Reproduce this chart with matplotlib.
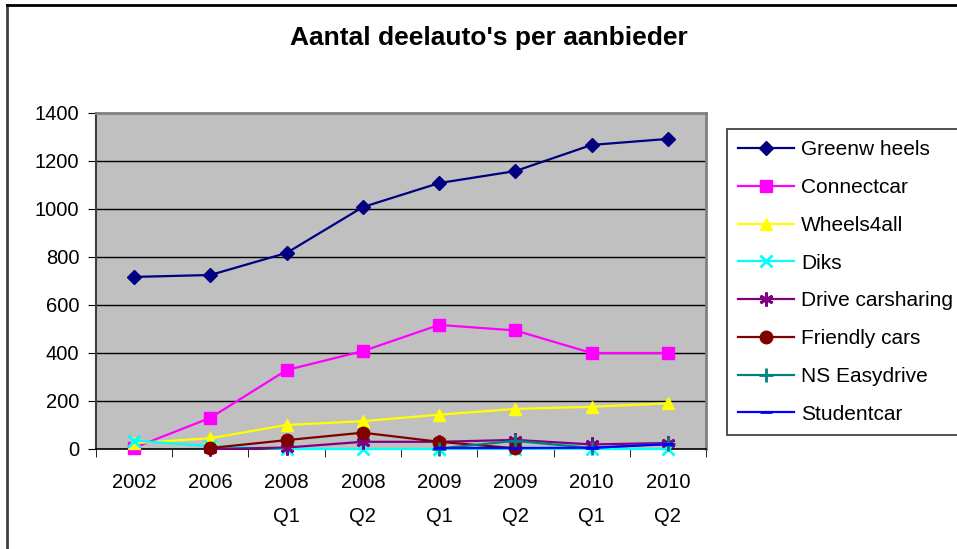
import matplotlib
matplotlib.use("Agg")
from matplotlib import pyplot as plt, lines

plt.rcParams['font.family'] = ['Liberation Sans', 'DejaVu Sans']

# Data
periods = ['2002', '2006', '2008\nQ1', '2008\nQ2', '2009\nQ1', '2009\nQ2', '2010\nQ1', '2010\nQ2']
greenwheels = [717, 725, 817, 1008, 1108, 1158, 1267, 1292]
connectcar = [5, 130, 329, 408, 517, 494, 400, 400]
wheels4all = [24, 45, 100, 116, 143, 167, 176, 190]
diks = [35, 12, 0, 0, 0, 0, 0, 0]
drive = [None, 0, 6, 30, 30, 38, 19, 25]
friendly = [None, 4, 37, 68, 30, 3, None, None]
ns_easydrive = [None, None, None, None, 2, 34, 4, 22]
studentcar = [None, None, None, None, 4, 4, 5, 20]

names = ['Greenw heels', 'Connectcar', 'Wheels4all', 'Diks', 'Drive carsharing',
         'Friendly cars', 'NS Easydrive', 'Studentcar']
series = [greenwheels, connectcar, wheels4all, diks, drive, friendly, ns_easydrive, studentcar]
colors = ['#000080', '#FF00FF', '#FFFF00', '#00FFFF', '#800080', '#800000', '#008080', '#0000FF']
markers = ['D', 's', '^', 'x', (6, 2, 0), 'o', '+', '_']
msizes = [7, 8, 9, 9, 10, 9, 10, 8]

fig = plt.figure(figsize=(9.57, 5.49), dpi=100)
ax = fig.add_axes([96/957, 1-449/549, (706-96)/957, (449-113)/549])
ax.set_facecolor('#C0C0C0')

# gridlines
for y in range(200, 1400, 200):
    ax.axhline(y, color='black', lw=1, zorder=1)

x = list(range(len(periods)))
for name, vals, c, m, ms in zip(names, series, colors, markers, msizes):
    xs = [i for i, v in zip(x, vals) if v is not None]
    ys = [v for v in vals if v is not None]
    mew = 2 if m in ('x', '+', '_') or isinstance(m, tuple) else 1
    ax.plot(xs, ys, color=c, lw=1.6, marker=m, markersize=ms, markeredgewidth=mew,
            markeredgecolor=c, markerfacecolor=c, label=name, zorder=3, clip_on=False)

ax.set_xlim(-0.5, 7.5)
ax.set_ylim(0, 1400)
ax.set_yticks(range(0, 1401, 200))
ax.set_xticks(x)
ax.set_xticklabels(periods, linespacing=2.05, va='top')
ax.set_xticks([i - 0.5 for i in range(len(periods) + 1)], minor=True)
ax.tick_params(axis='x', which='major', length=0, pad=17, labelsize=14.5)
ax.tick_params(axis='x', which='minor', length=6, direction='out', color='black')
ax.tick_params(axis='y', length=6, direction='out', pad=6, labelsize=14.5)

for s in ['top', 'right']:
    ax.spines[s].set_color('#808080')
    ax.spines[s].set_linewidth(2)
ax.spines['left'].set_color('#404040')
ax.spines['left'].set_linewidth(1.5)
ax.spines['bottom'].set_color('black')
ax.spines['bottom'].set_linewidth(1.2)

fig.text(489/957, 1-38/549, "Aantal deelauto's per aanbieder", ha='center', va='center',
         fontsize=19, fontweight='bold')

# Legend
handles, labels = ax.get_legend_handles_labels()
leg = fig.legend(handles, labels, loc='upper left', bbox_to_anchor=(727/957, 1-129/549),
                 fontsize=15, frameon=True, fancybox=False, edgecolor='black',
                 borderpad=0.55, labelspacing=0.9, handlelength=2.65, handletextpad=0.35,
                 borderaxespad=0)
leg.get_frame().set_linewidth(1.2)

# outer chart border
fig.add_artist(lines.Line2D([7/957, 7/957], [0, 1-5/549], color='#404040', lw=2))
fig.add_artist(lines.Line2D([7/957, 1], [1-5/549, 1-5/549], color='black', lw=2))

fig.savefig('out.png', dpi=100)
